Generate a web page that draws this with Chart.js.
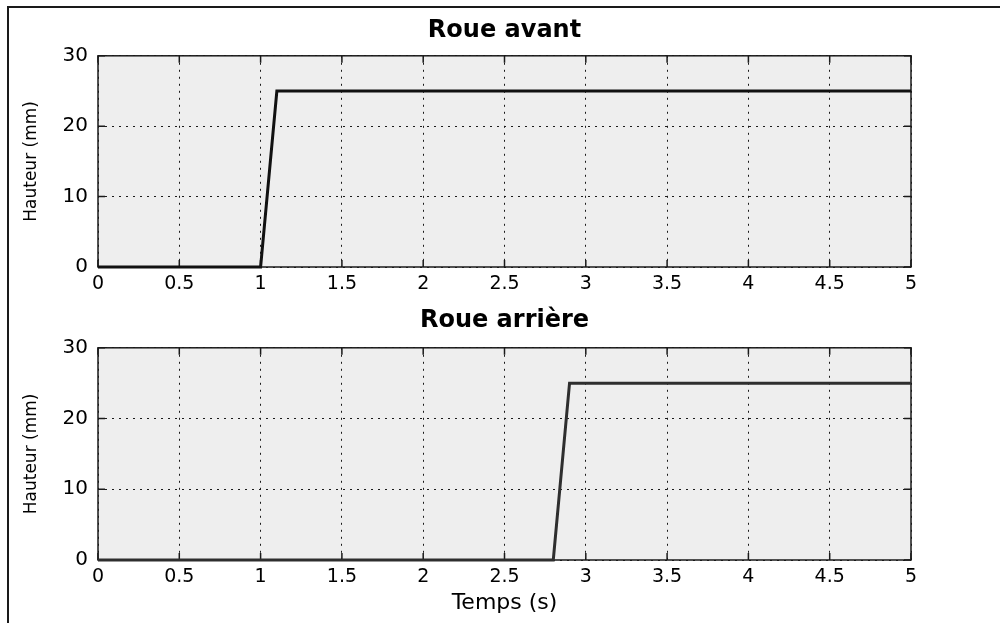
<!DOCTYPE html>
<html>
<head>
<meta charset="utf-8">
<script src="https://cdn.jsdelivr.net/npm/chart.js@4.4.0/dist/chart.umd.min.js"></script>
<style>
  body { margin: 0; background: #fff; width: 1000px; height: 623px; overflow: hidden; position: relative; }
  #frame { position: absolute; left: 7px; top: 6px; width: 1010px; height: 640px; border-left: 2px solid #1a1a1a; border-top: 2px solid #1a1a1a; }
  .plot { position: absolute; left: 0; }
</style>
</head>
<body>
<div id="frame"></div>
<canvas id="frontChart" class="plot" width="1000" height="300" style="top:0px"></canvas>
<canvas id="rearChart" class="plot" width="1000" height="323" style="top:300px"></canvas>
<script>
const timeTicks = [0, 0.5, 1, 1.5, 2, 2.5, 3, 3.5, 4, 4.5, 5]
const heightTicks = [0, 10, 20, 30]

// Roue avant
const frontTime = [0, 1, 1.1, 5]
const frontHeight = [0, 0, 25, 25]

// Roue arriere
const rearTime = [0, 2.8, 2.9, 5]
const rearHeight = [0, 0, 25, 25]

const fontFamily = 'DejaVu Sans'

// grey axes box with inward ticks, matlab style
const matlabAxes = {
  id: 'matlabAxes',
  beforeDraw(chart) {
    const {ctx, chartArea: a} = chart
    ctx.save()
    ctx.fillStyle = '#eeeeee'
    ctx.fillRect(a.left, a.top, a.right - a.left, a.bottom - a.top)
    ctx.restore()
  },
  beforeDatasetsDraw(chart) {
    const {ctx, chartArea: a, scales} = chart
    ctx.save()
    ctx.strokeStyle = '#1a1a1a'
    ctx.lineWidth = 1.5
    ctx.beginPath()
    scales.x.ticks.forEach(t => {
      const px = scales.x.getPixelForValue(t.value)
      ctx.moveTo(px, a.bottom)
      ctx.lineTo(px, a.bottom - 7)
      ctx.moveTo(px, a.top)
      ctx.lineTo(px, a.top + 7)
    })
    scales.y.ticks.forEach(t => {
      const py = scales.y.getPixelForValue(t.value)
      ctx.moveTo(a.left, py)
      ctx.lineTo(a.left + 7, py)
      ctx.moveTo(a.right, py)
      ctx.lineTo(a.right - 7, py)
    })
    ctx.stroke()
    ctx.strokeRect(a.left, a.top, a.right - a.left, a.bottom - a.top)
    ctx.restore()
  },
}

function toPoints(xs, ys) {
  return xs.map((x, i) => ({x: x, y: ys[i]}))
}

function createPlot(id, title, titlePadding, xs, ys, lineColor, xAxisHeight, xTitle) {
  const ctx = document.getElementById(id).getContext('2d')
  return new Chart(ctx, {
    type: 'line',
    data: {
      datasets: [{
        data: toPoints(xs, ys),
        borderColor: lineColor,
        borderWidth: 3,
        pointRadius: 0,
        tension: 0,
        fill: false,
        clip: 4,
      }],
    },
    options: {
      responsive: false,
      animation: false,
      layout: {
        padding: {left: 0, right: 89, top: 0, bottom: 0},
      },
      scales: {
        x: {
          type: 'linear',
          min: 0,
          max: 5,
          afterBuildTicks: scale => { scale.ticks = timeTicks.map(v => ({value: v})) },
          afterFit: scale => { scale.height = xAxisHeight },
          ticks: {
            color: '#000',
            font: {family: fontFamily, size: 19},
            padding: 6,
            maxRotation: 0,
            autoSkip: false,
            callback: value => String(value),
          },
          grid: {color: '#1a1a1a', lineWidth: 1, drawTicks: false},
          border: {display: false, dash: [2, 5]},
          title: {
            display: !!xTitle,
            text: xTitle || '',
            color: '#000',
            font: {family: fontFamily, size: 22},
            padding: {top: 0, bottom: 7},
          },
        },
        y: {
          min: 0,
          max: 30,
          afterBuildTicks: scale => { scale.ticks = heightTicks.map(v => ({value: v})) },
          afterFit: scale => { scale.width = 98 },
          ticks: {
            color: '#000',
            font: {family: fontFamily, size: 20},
            padding: 10,
          },
          grid: {color: '#1a1a1a', lineWidth: 1, drawTicks: false},
          border: {display: false, dash: [2, 5]},
          title: {
            display: true,
            text: 'Hauteur (mm)',
            color: '#000',
            font: {family: fontFamily, size: 17},
            padding: {top: 21, bottom: 0},
          },
        },
      },
      plugins: {
        legend: {display: false},
        tooltip: {enabled: false},
        title: {
          display: true,
          fullSize: false,
          text: title,
          color: '#000',
          font: {family: fontFamily, size: 24, weight: 'bold'},
          padding: titlePadding,
        },
      },
    },
    plugins: [matlabAxes],
  })
}

createPlot('frontChart', 'Roue avant', {top: 16, bottom: 11}, frontTime, frontHeight, '#111111', 33, null)
createPlot('rearChart', 'Roue arrière', {top: 6, bottom: 13}, rearTime, rearHeight, '#2e2e2e', 63, 'Temps (s)')
</script>
</body>
</html>
